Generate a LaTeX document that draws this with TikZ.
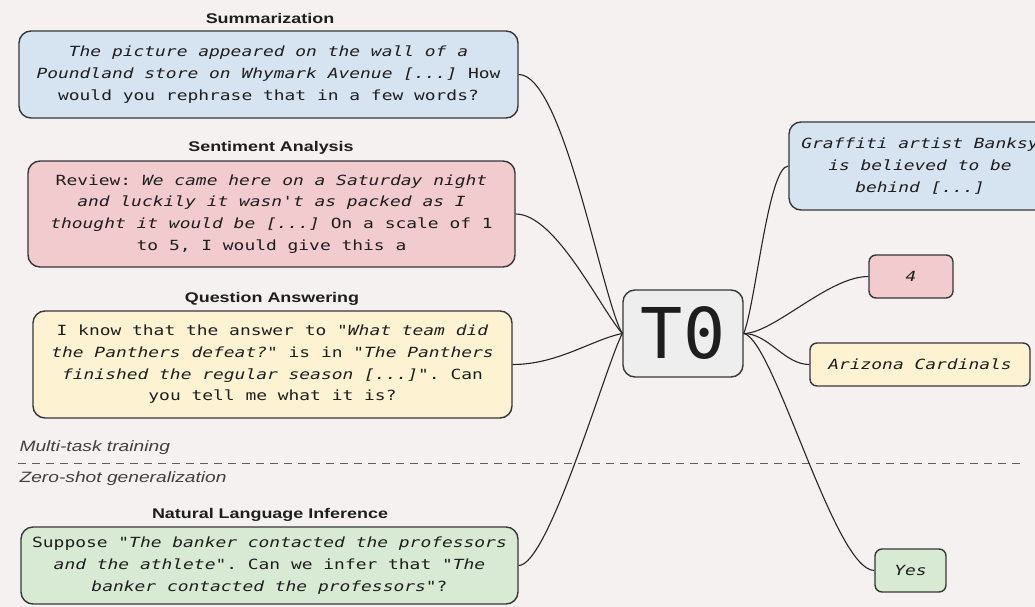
\documentclass[tikz,border=0pt]{standalone}
\usepackage{fontspec}
\setmainfont{Liberation Sans}[FakeStretch=1.28]
\setmonofont{DejaVu Sans Mono}[FakeStretch=1.28]
\newfontfamily\bigmono{DejaVu Sans Mono}
\usetikzlibrary{calc}

\definecolor{bgc}{RGB}{244,241,240}
\definecolor{edgec}{RGB}{55,55,55}
\definecolor{textc}{RGB}{30,30,30}
\definecolor{blueF}{RGB}{214,228,242}
\definecolor{pinkF}{RGB}{242,203,206}
\definecolor{yellowF}{RGB}{253,242,210}
\definecolor{greenF}{RGB}{216,234,211}
\definecolor{grayF}{RGB}{238,238,238}

\begin{document}
\begin{tikzpicture}[x=1pt,y=-1pt,
  box/.style={draw=edgec, line width=1.4pt, rounded corners=12pt, inner sep=0pt,
    align=center, text=textc, font=\ttfamily\fontsize{14}{21.7}\selectfont},
  small/.style={box, rounded corners=7pt},
  head/.style={text=textc, font=\bfseries\fontsize{14}{16}\selectfont},
  phase/.style={text=textc!85, anchor=west, font=\itshape\fontsize{15}{17}\selectfont},
  link/.style={line width=1.1pt, draw=black!85}]

% canvas
\fill[bgc] (0,0) rectangle (1035,607);
\useasboundingbox (0,0) rectangle (1035,607);

% task prompts (left)
\node[head] (hsum) at (270,18.5) {Summarization};
\node[box, fill=blueF, minimum width=499pt, minimum height=87pt] (sum) at (268.5,74.5)
  {\textit{The picture appeared on the wall of a}\\
   \textit{Poundland store on Whymark Avenue [...]} How\\
   would you rephrase that in a few words?};

\node[head] (hsent) at (271,148) {Sentiment Analysis};
\node[box, fill=pinkF, minimum width=487pt, minimum height=106pt] (sent) at (271.5,214)
  {Review: \textit{We came here on a Saturday night}\\
   \textit{and luckily it wasn't as packed as I}\\
   \textit{thought it would be [...]} On a scale of 1\\
   to 5, I would give this a};

\node[head] (hqa) at (272,299) {Question Answering};
\node[box, fill=yellowF, minimum width=479pt, minimum height=107pt] (qa) at (272.5,364.5)
  {I know that the answer to "\textit{What team did}\\
   \textit{the Panthers defeat?}" is in "\textit{The Panthers}\\
   \textit{finished the regular season [...]}". Can\\
   you tell me what it is?};

% training / evaluation split
\node[phase] (mtt) at (16,448) {Multi-task training};
\coordinate (dl) at (18,463);
\coordinate (dr) at (1022,463);
\draw[edgec!80, line width=1pt, dash pattern=on 8pt off 6pt] (dl) -- (dr);
\node[phase] (zsg) at (16,479) {Zero-shot generalization};

\node[head] (hnli) at (270,515) {Natural Language Inference};
\node[box, fill=greenF, minimum width=497pt, minimum height=77pt] (nli) at (269.5,565.5)
  {Suppose "\textit{The banker contacted the professors}\\
   \textit{and the athlete}". Can we infer that "\textit{The}\\
   \textit{banker contacted the professors}"?};

% model
\node[box, fill=grayF, minimum width=120pt, minimum height=87pt,
  font=\bigmono\fontsize{70}{70}\selectfont] (t0) at (683,333.5) {T0};

% outputs (right)
\node[box, fill=blueF, minimum width=262pt, minimum height=88pt] (graf) at (920,166)
  {\textit{Graffiti artist Banksy}\\
   \textit{is believed to be}\\
   \textit{behind [...]}};
\node[small, fill=pinkF, minimum width=84pt, minimum height=43pt] (four) at (911,276.5) {\textit{4}};
\node[small, fill=yellowF, minimum width=220pt, minimum height=43pt] (ariz) at (920,364.5) {\textit{Arizona Cardinals}};
\node[small, fill=greenF, minimum width=71pt, minimum height=43pt] (yes) at (910.5,570.5) {\textit{Yes}};

% prompts into the model
\draw[link] (sum.east) .. controls ($(sum.east)+(45,0)$) and ($(t0.west)+(-20,-33)$) .. (t0.west);
\draw[link] (sent.east) .. controls ($(sent.east)+(40,0)$) and ($(t0.west)+(-22,-25)$) .. (t0.west);
\draw[link] (qa.east) .. controls ($(qa.east)+(45,0)$) and ($(t0.west)+(-30,6)$) .. (t0.west);
\draw[link] (nli.east) .. controls ($(nli.east)+(30,0)$) and ($(t0.west)+(-16,30)$) .. (t0.west);

% model to outputs
\draw[link] (t0.east) .. controls ($(t0.east)+(12,-30)$) and ($(graf.west)+(-20,0)$) .. (graf.west);
\draw[link] (t0.east) .. controls ($(t0.east)+(30,0)$) and ($(four.west)+(-40,0)$) .. (four.west);
\draw[link] (t0.east) .. controls ($(t0.east)+(25,0)$) and ($(ariz.west)+(-25,0)$) .. (ariz.west);
\draw[link] (t0.east) .. controls ($(t0.east)+(30,5)$) and ($(yes.west)+(-40,0)$) .. (yes.west);
\end{tikzpicture}
\end{document}
